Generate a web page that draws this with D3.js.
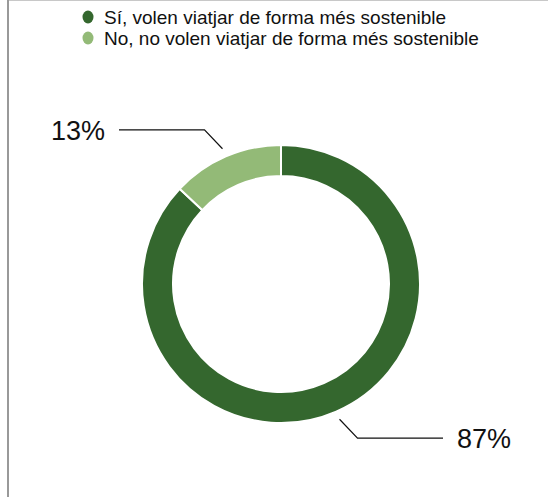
<!DOCTYPE html>
<html>
<head>
<meta charset="utf-8">
<script src="https://cdn.jsdelivr.net/npm/d3@7"></script>
<style>
  body { margin: 0; background: #fff; }
  svg { display: block; font-family: "Liberation Sans", Arial, Helvetica, sans-serif; }
</style>
</head>
<body>
<div id="chart"></div>
<script>
// data
var categories = ['Sí, volen viatjar de forma més sostenible', 'No, no volen viatjar de forma més sostenible'];
var values = [87, 13];
var colors = ['#34672e', '#93ba77'];

var width = 548, height = 497;
var cx = 281, cy = 284;
var outerR = 139, innerR = 108;

var svg = d3.select('#chart').append('svg')
  .attr('width', width)
  .attr('height', height);

// frame lines
svg.append('line')
  .attr('x1', 9).attr('x2', width).attr('y1', 0.5).attr('y2', 0.5)
  .attr('stroke', '#c8c8c8').attr('stroke-width', 1);
svg.append('line')
  .attr('x1', 8).attr('x2', 8).attr('y1', 0).attr('y2', height)
  .attr('stroke', '#999').attr('stroke-width', 2);

// legend
var legend = svg.append('g').attr('class', 'legend');
var items = legend.selectAll('g')
  .data(categories)
  .enter().append('g')
  .attr('transform', function(d, i) { return 'translate(88,' + (17 + i * 21) + ')'; });

items.append('ellipse')
  .attr('rx', 5.5).attr('ry', 6.5)
  .attr('fill', function(d, i) { return colors[i]; });

items.append('text')
  .attr('x', 16).attr('y', 6.5)
  .attr('font-size', 19)
  .attr('fill', '#111')
  .text(function(d) { return d; });

// donut
var pie = d3.pie().sort(null).value(function(d) { return d; });
var arcs = pie(values);

var arc = d3.arc().innerRadius(innerR).outerRadius(outerR);

var g = svg.append('g').attr('transform', 'translate(' + cx + ',' + cy + ')');

g.selectAll('path.slice')
  .data(arcs)
  .enter().append('path')
  .attr('class', 'slice')
  .attr('d', arc)
  .attr('fill', function(d, i) { return colors[i]; })
  .attr('stroke', '#fff')
  .attr('stroke-width', 2);

// leader lines + labels
// line starts just outside the ring, goes out at 45deg, then horizontal
var startArc = d3.arc().innerRadius(outerR * 1.06).outerRadius(outerR * 1.06);

arcs.forEach(function(d, i) {
  var p0 = startArc.centroid(d);
  var side = p0[0] >= 0 ? 1 : -1;
  var vside = p0[1] >= 0 ? 1 : -1;
  var p1 = [p0[0] + side * 18, p0[1] + vside * 19];
  var p2 = [side * 162, p1[1]];

  g.append('polyline')
    .attr('points', [p0, p1, p2].map(function(p) { return p.join(','); }).join(' '))
    .attr('fill', 'none')
    .attr('stroke', '#111')
    .attr('stroke-width', 1.2);

  g.append('text')
    .attr('x', p2[0] + side * 14)
    .attr('y', p2[1] + 10)
    .attr('text-anchor', side > 0 ? 'start' : 'end')
    .attr('font-size', 27)
    .attr('fill', '#111')
    .text(values[i] + '%');
});
</script>
</body>
</html>
